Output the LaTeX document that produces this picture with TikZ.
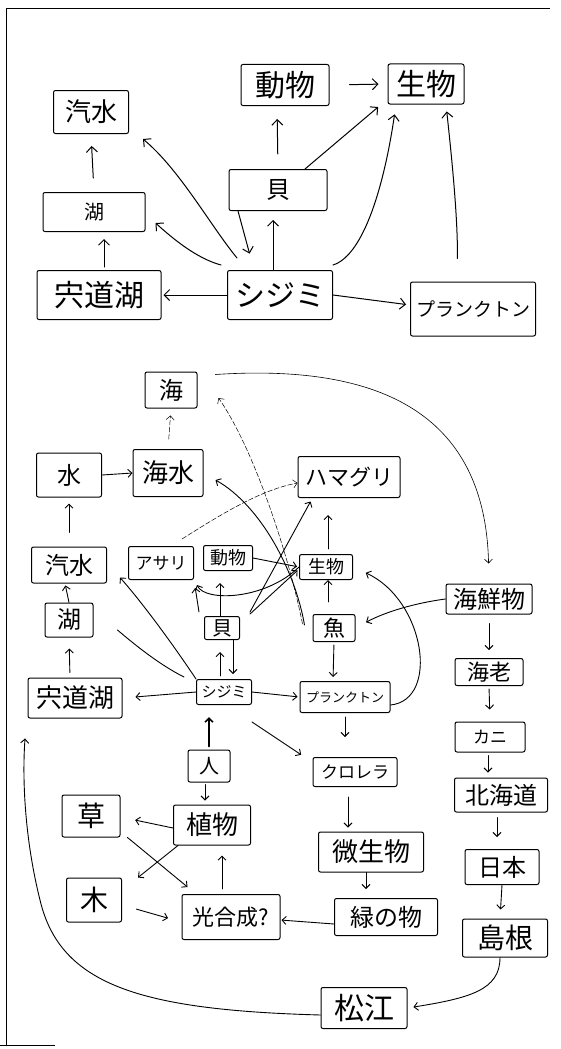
\documentclass[tikz,border=0pt]{standalone}
\usepackage{fontspec}
\setmainfont{Noto Sans CJK JP}
\usetikzlibrary{arrows.meta}
\newcommand\myfs[1]{\fontsize{#1}{#1}\selectfont}
\begin{document}
\begin{tikzpicture}[x=1pt,y=-1pt,
  bx/.style={draw, line width=1pt, inner sep=0pt, rounded corners=2pt},
  ar/.style={line width=0.9pt, line cap=round, -{Straight Barb[length=4pt,width=8pt]}},
  arT/.style={line width=1pt, line cap=round, -{Straight Barb[length=5.5pt,width=11pt]}},
  faint/.style={line width=0.5pt, dash pattern=on 5pt off 2pt},
  ln/.style={line width=0.9pt, line cap=round}]
\useasboundingbox (0,0) rectangle (560,1049);
% frame
\draw[line width=1pt] (6,1045) -- (6,9) -- (550,9);
\draw[line width=1pt] (0,1045) -- (55,1045);

% ---------- top map ----------
\node[bx,minimum width=75pt,minimum height=43pt,font=\myfs{26}] (tKisui) at (91,112) {汽水};
\node[bx,minimum width=102pt,minimum height=39pt,font=\myfs{20}] (tKo) at (94,212) {湖};
\node[bx,minimum width=124pt,minimum height=49pt,font=\myfs{30}] (tShinji) at (99,295) {宍道湖};
\node[bx,minimum width=105pt,minimum height=49pt,font=\myfs{30}] (tSj) at (280,295) {シジミ};
\node[bx,minimum width=98pt,minimum height=41pt,font=\myfs{24}] (tKai) at (278,190) {貝};
\node[bx,minimum width=88pt,minimum height=41pt,font=\myfs{30}] (tDob) at (285,85) {動物};
\node[bx,minimum width=76pt,minimum height=40pt,font=\myfs{30}] (tSei) at (426,84) {生物};
\node[bx,minimum width=125pt,minimum height=54pt,font=\myfs{19}] (tPla) at (473,309) {プランクトン};

\draw[arT,shorten <=14pt,shorten >=12pt] (tKo.north) -- (tKisui.south);
\draw[arT,shorten <=3pt,shorten >=7pt] ([xshift=5pt]tShinji.north) -- ([xshift=10pt]tKo.south);
\draw[arT,shorten >=2pt] (tSj.west) -- (tShinji.east);
\draw[arT,shorten >=4pt] (tSj.east) -- ([yshift=4pt]tPla.west);
\draw[arT] ([xshift=-6pt,yshift=5pt]tSj.north west) .. controls (195,258) and (170,236) .. ([xshift=10pt,yshift=-11pt]tKo.east);
\draw[arT] ([xshift=10pt,yshift=12pt]tSj.north west) .. controls (210,225) and (180,170) .. ([xshift=14pt,yshift=-5pt]tKisui.south east);
\draw[arT,shorten >=17pt] ([xshift=-40pt]tKai.south) -- ([xshift=-26pt]tSj.north);
\draw[arT,shorten >=9pt] ([xshift=-7pt]tSj.north) -- ([xshift=-5pt]tKai.south);
\draw[arT,shorten <=15pt,shorten >=13pt] (tKai.north) -- ([xshift=-8pt]tDob.south);
\draw[arT,shorten <=20pt,shorten >=9pt] (tDob.east) -- (tSei.west);
\draw[arT,shorten >=7pt] ([xshift=27pt]tKai.north) -- ([xshift=-4pt,yshift=2pt]tSei.south west);
\draw[arT,shorten >=10pt] ([yshift=5pt]tSj.north east) .. controls (365,255) and (385,180) .. ([xshift=-30pt]tSei.south);
\draw[arT,shorten <=23pt,shorten >=7pt] ([xshift=-16pt]tPla.north) .. controls (458,220) and (452,160) .. ([xshift=20pt]tSei.south);

% ---------- bottom map ----------
\node[bx,minimum width=52pt,minimum height=36pt,font=\myfs{24}] (umi) at (171,390) {海};
\node[bx,minimum width=65pt,minimum height=44pt,font=\myfs{24}] (mizu) at (69,475) {水};
\node[bx,minimum width=70pt,minimum height=47pt,font=\myfs{26}] (kaisui) at (168,473) {海水};
\node[bx,minimum width=75pt,minimum height=36pt,font=\myfs{24}] (bKisui) at (69,565) {汽水};
\node[bx,minimum width=65pt,minimum height=33pt,font=\myfs{17}] (asari) at (161,563) {アサリ};
\node[bx,minimum width=49pt,minimum height=25pt,font=\myfs{18}] (bDob) at (228,558) {動物};
\node[bx,minimum width=53pt,minimum height=25pt,font=\myfs{18}] (bSei) at (326,567) {生物};
\node[bx,minimum width=102pt,minimum height=41pt,font=\myfs{22}] (hama) at (349,477) {ハマグリ};
\node[bx,minimum width=48pt,minimum height=34pt,font=\myfs{24}] (bKo) at (69,620) {湖};
\node[bx,minimum width=35pt,minimum height=23pt,font=\myfs{20}] (bKai) at (222,628) {貝};
\node[bx,minimum width=42pt,minimum height=27pt,font=\myfs{22}] (sakana) at (334,628) {魚};
\node[bx,minimum width=86pt,minimum height=30pt,font=\myfs{24}] (kaisen) at (489,599) {海鮮物};
\node[bx,minimum width=94pt,minimum height=40pt,font=\myfs{26}] (bShinji) at (75,698) {宍道湖};
\node[bx,minimum width=55pt,minimum height=25pt,font=\myfs{15}] (bSj) at (224,692) {シジミ};
\node[bx,minimum width=90pt,minimum height=31pt,font=\myfs{13}] (bPla) at (345,697) {プランクトン};
\node[bx,minimum width=68pt,minimum height=27pt,font=\myfs{22}] (ebi) at (489,672) {海老};
\node[bx,minimum width=42pt,minimum height=32pt,font=\myfs{20}] (hito) at (209,766) {人};
\node[bx,minimum width=84pt,minimum height=29pt,font=\myfs{17}] (kuro) at (355,772) {クロレラ};
\node[bx,minimum width=70pt,minimum height=30pt,font=\myfs{17}] (kani) at (490,737) {カニ};
\node[bx,minimum width=58pt,minimum height=42pt,font=\myfs{28}] (kusa) at (91,816) {草};
\node[bx,minimum width=77pt,minimum height=40pt,font=\myfs{26}] (shoku) at (212,825) {植物};
\node[bx,minimum width=93pt,minimum height=34pt,font=\myfs{24}] (hokkai) at (501,795) {北海道};
\node[bx,minimum width=105pt,minimum height=40pt,font=\myfs{26}] (bisei) at (371,852) {微生物};
\node[bx,minimum width=55pt,minimum height=44pt,font=\myfs{28}] (ki) at (94,900) {木};
\node[bx,minimum width=98pt,minimum height=45pt,font=\myfs{22}] (kougou) at (231,917) {光合成?};
\node[bx,minimum width=103pt,minimum height=37pt,font=\myfs{24}] (midori) at (386,917) {緑の物};
\node[bx,minimum width=74pt,minimum height=35pt,font=\myfs{24}] (nihon) at (502,867) {日本};
\node[bx,minimum width=85pt,minimum height=38pt,font=\myfs{28}] (shimane) at (505,938) {島根};
\node[bx,minimum width=86pt,minimum height=41pt,font=\myfs{30}] (matsue) at (364,1008) {松江};

% left column
\draw[ar,faint,shorten <=10pt,shorten >=7pt] (kaisui.north) -- (umi.south);
\draw[ar] (mizu.east) -- (kaisui.west);
\draw[ar,shorten <=14pt,shorten >=6pt] (bKisui.north) -- (mizu.south);
\draw[ar,shorten >=2pt] (bKo.north) -- ([xshift=-4pt]bKisui.south);
\draw[ar,shorten <=5pt,shorten >=11pt] ([xshift=-5pt]bShinji.north) -- (bKo.south);
\draw[ar,shorten >=13pt] (bSj.west) -- (bShinji.east);
% around shijimi
\draw[ar,shorten >=5pt] ([xshift=11pt]bKai.south) -- ([xshift=9pt]bSj.north);
\draw[ar,shorten <=3pt,shorten >=12pt] ([xshift=-4pt]bSj.north) -- ([xshift=-2pt]bKai.south);
\draw[ar,line width=1.6pt,shorten <=3pt,shorten >=12pt] (hito.north) -- ([xshift=-15pt]bSj.south);
\draw[ar,shorten <=2pt,shorten >=4pt] ([xshift=-4pt]hito.south) -- ([xshift=-7pt]shoku.north);
\draw[ar] (bSj.north west) .. controls (170,640) and (140,600) .. ([xshift=13pt,yshift=6pt]bKisui.south east);
\draw[ln] ([xshift=-12pt,yshift=2pt]bSj.north west) .. controls (160,665) and (135,645) .. ([xshift=24pt,yshift=-10pt]bKo.east);
\draw[ar,shorten >=8pt] ([xshift=-5pt,yshift=4pt]bKai.north west) -- (asari.south east);
\draw[ar,shorten >=12pt] ([xshift=-2pt]bKai.north) -- ([xshift=-8pt]bDob.south);
\draw[ar] (bSei.west) .. controls (265,600) and (205,602) .. ([xshift=3pt,yshift=-5pt]asari.south east);
\draw[ar,shorten >=2pt] (bDob.east) -- (bSei.west);
\draw[ar,shorten >=2pt] ([xshift=10pt,yshift=2pt]bKai.north east) -- ([yshift=-2pt]bSei.west);
\draw[ar,shorten >=4pt] ([xshift=10pt,yshift=4pt]bKai.north east) -- ([xshift=15pt]hama.south west);
\draw[ar,faint] ([xshift=21pt,yshift=7pt]asari.north) .. controls (220,515) and (260,490) .. ([yshift=-6pt]hama.west);
\draw[ar,faint] ([xshift=-10pt,yshift=4pt]sakana.west) .. controls (290,560) and (255,450) .. ([xshift=21pt,yshift=-8pt]umi.east);
\draw[ar] ([xshift=-8pt,yshift=3pt]sakana.west) .. controls (295,570) and (260,505) .. ([xshift=12pt,yshift=-7pt]kaisui.east);
% middle column
\draw[ar,shorten >=2pt] (bSj.east) -- (bPla.west);
\draw[ar,shorten >=4pt] ([yshift=-17pt]bSj.south east) -- ([xshift=-8pt]kuro.north west);
\draw[ar,shorten <=3pt,shorten >=4pt] (sakana.south) -- ([xshift=-12pt]bPla.north);
\draw[ar,shorten <=12pt] ([xshift=-6pt]sakana.north) -- ([xshift=2pt]bSei.south);
\draw[ar,shorten <=5pt,shorten >=17pt] ([xshift=2pt]bSei.north) -- ([xshift=-21pt]hama.south);
\draw[ar,shorten >=12pt] (kaisen.west) .. controls (415,603) and (385,612) .. (sakana.east);
\draw[ar,shorten >=14pt] ([yshift=-8pt]bPla.east) .. controls (440,700) and (425,600) .. (bSei.east);
\draw[ar,shorten <=4pt,shorten >=20pt] (bPla.south) -- ([xshift=-10pt]kuro.north);
\draw[ar,shorten <=10pt,shorten >=4pt] ([xshift=-7pt]kuro.south) -- ([xshift=-23pt]bisei.north);
\draw[ar,shorten >=9pt] ([xshift=-5pt]bisei.south) -- ([xshift=-20pt]midori.north);
\draw[ar,shorten >=1pt] ([yshift=-7pt]midori.west) -- ([yshift=-3pt]kougou.east);
% plants
\draw[ar,shorten >=15pt] ([yshift=-3pt]shoku.west) -- ([yshift=-1pt]kusa.east);
\draw[ar] ([xshift=5pt]shoku.south west) -- ([xshift=16pt]ki.north east);
\draw[ar] ([xshift=7pt]kusa.south east) -- ([xshift=6pt,yshift=7pt]kougou.north west);
\draw[ar,shorten <=15pt,shorten >=14pt] ([yshift=-5pt]ki.east) -- ([yshift=-5pt]kougou.west);
\draw[ar,shorten <=5pt,shorten >=10pt] ([xshift=-9pt]kougou.north) -- ([xshift=10pt]shoku.south);
% right column
\draw[ar,line width=0.6pt,shorten >=20pt] ([xshift=18pt,yshift=-3pt]umi.north east) .. controls (360,365) and (485,400) .. (kaisen.north);
\draw[ar,shorten <=9pt,shorten >=8pt] (kaisen.south) -- (ebi.north);
\draw[ar,shorten <=3pt,shorten >=12pt] (ebi.south) -- (kani.north);
\draw[ar,shorten <=3pt,shorten >=5pt] ([xshift=-2pt]kani.south) -- ([xshift=-13pt]hokkai.north);
\draw[ar,shorten <=5pt,shorten >=12pt] ([xshift=-4pt]hokkai.south) -- ([xshift=-5pt]nihon.north);
\draw[ar,shorten >=9pt] (nihon.south) -- ([xshift=-5pt]shimane.north);
\draw[ar,shorten >=6pt] ([xshift=-5pt]shimane.south) .. controls (500,990) and (470,998) .. (matsue.east);
\draw[ar,shorten >=20pt] ([yshift=-7pt]matsue.west) .. controls (140,1010) and (60,985) .. (40,900) .. controls (25,840) and (22,780) .. ([xshift=-1pt]bShinji.south west);
\end{tikzpicture}
\end{document}
